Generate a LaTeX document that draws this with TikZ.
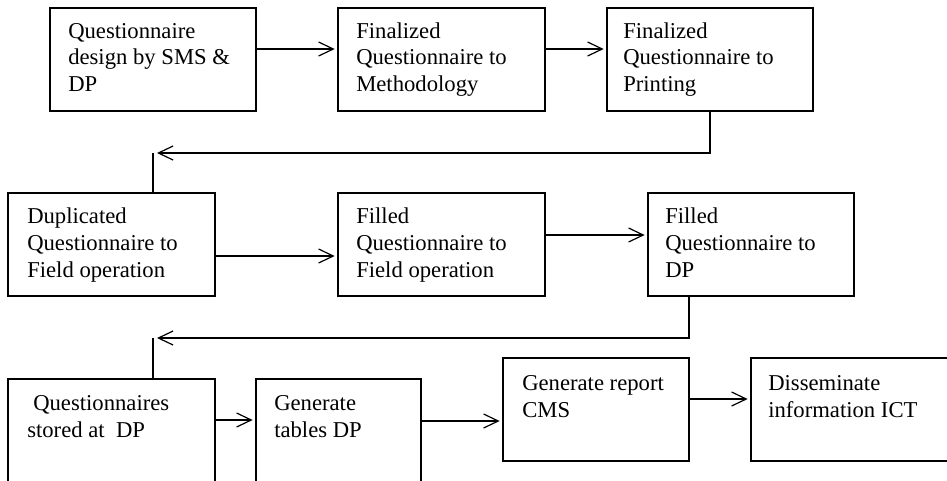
\documentclass[tikz,border=0pt]{standalone}
\usepackage{fontspec}
\setmainfont{Liberation Serif}
\usetikzlibrary{arrows.meta}
\begin{document}
\begin{tikzpicture}[x=0.75pt, y=-0.75pt,
  box/.style={draw, line width=0.9pt, rectangle, inner sep=0pt, outer sep=0pt,
    anchor=north west, minimum height=77.25pt},
  % anchored at the baseline of the last line
  txt/.style={inner sep=0pt, anchor=base west, align=left,
    font=\fontsize{17}{20}\selectfont},
  link/.style={line width=0.9pt},
  arr/.style={link, -{Straight Barb[length=11pt, width=10.5pt, line width=0.9pt]},
    shorten >=2.5pt},
  freearr/.style={link, -{Straight Barb[length=11pt, width=10.5pt, line width=0.9pt]}}]
\useasboundingbox (0,0) rectangle (947,480);
\clip (0,0) rectangle (947,480);

% first row
\node[box, minimum width=154.5pt]  (b1) at (50,8) {};
\node[box, minimum width=155.25pt] (b2) at (338,8) {};
\node[box, minimum width=154.5pt]  (b3) at (607,8) {};
% second row
\node[box, minimum width=155.25pt] (b4) at (8,193) {};
\node[box, minimum width=155.25pt] (b5) at (338,193) {};
\node[box, minimum width=154.5pt]  (b6) at (648,193) {};
% third row
\node[box, minimum width=155.25pt] (b7) at (8,379) {};
\node[box, minimum width=123.75pt] (b8) at (256,379) {};
\node[box, minimum width=139.5pt]  (b9) at (503,358) {};
\node[box, minimum width=150pt]    (b10) at (751,358) {};

% labels
\node[txt] (t1) at (68,91.5) {Questionnaire\\design by SMS \&\\DP};
\node[txt] (t2) at (356,91.5) {Finalized\\Questionnaire to\\Methodology};
\node[txt] (t3) at (623,91.5) {Finalized\\Questionnaire to\\Printing};
\node[txt] (t4) at (27,277) {Duplicated\\Questionnaire to\\Field operation};
\node[txt] (t5) at (356,277) {Filled\\Questionnaire to\\Field operation};
\node[txt] (t6) at (665,277) {Filled\\Questionnaire to\\DP};
\node[txt] (t7) at (27,437) {\hspace{4.5pt}Questionnaires\\stored at~~DP};
\node[txt] (t8) at (274,437) {Generate\\tables DP};
\node[txt] (t9) at (522,417) {Generate report\\CMS};
\node[txt] (t10) at (768,417) {Disseminate\\information ICT};

% levels of the horizontal links
\coordinate (h1) at (0,49);
\coordinate (h2) at (0,256);
\coordinate (h3) at (0,235);
\coordinate (h4) at (0,420);
\coordinate (h5) at (0,421);
\coordinate (h6) at (0,399);

\draw[arr] (b1.east |- h1) -- (b2.west |- h1);
\draw[arr] (b2.east |- h1) -- (b3.west |- h1);
\draw[arr] (b4.east |- h2) -- (b5.west |- h2);
\draw[arr] (b5.east |- h3) -- (b6.west |- h3);
\draw[arr] (b7.east |- h4) -- (b8.west |- h4);
\draw[arr] (b8.east |- h5) -- (b9.west |- h5);
\draw[arr] (b9.east |- h6) -- (b10.west |- h6);

% return links between rows
\coordinate (tip1) at (157,153);
\coordinate (ret1) at (153,153);
\coordinate (tip2) at (157,338);
\coordinate (ret2) at (153,338);
\coordinate (drop2) at (689,0);

\draw[freearr] (b3.south) |- (tip1);
\draw[link] (b4.north -| ret1) -- (ret1);
\draw[freearr] (b6.south -| drop2) |- (tip2);
\draw[link] (b7.north -| ret2) -- (ret2);
\end{tikzpicture}
\end{document}
